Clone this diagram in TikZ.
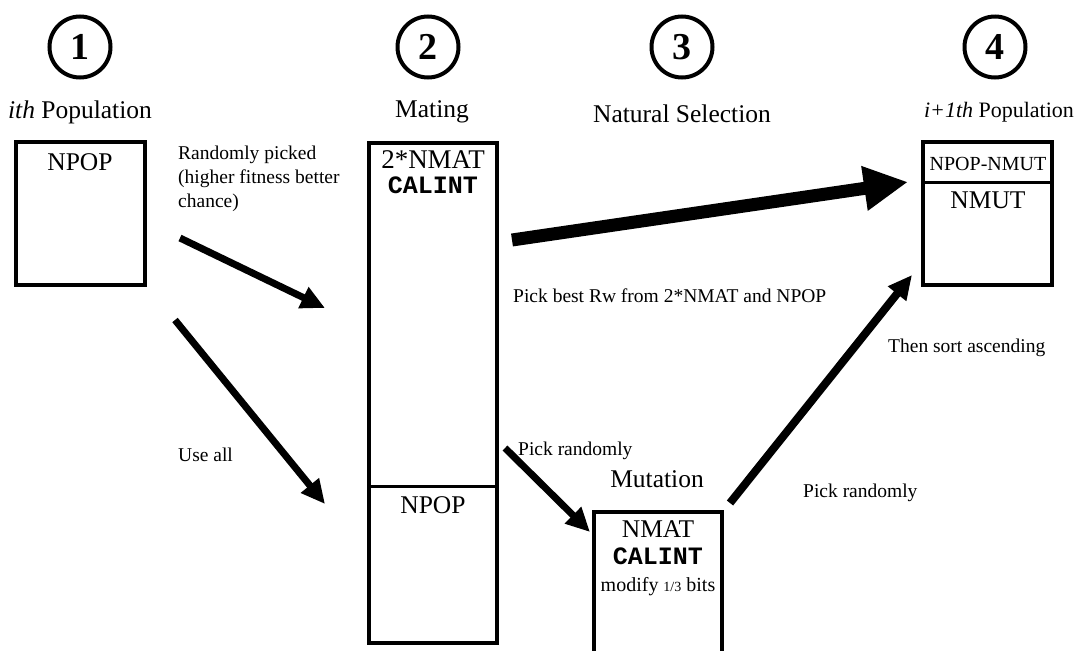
\documentclass[tikz,border=0pt]{standalone}
\usepackage{fontspec}
\setmainfont{Liberation Serif}
\setmonofont{Liberation Mono}
\usetikzlibrary{arrows.meta, positioning}

\tikzset{
  numcircle/.style={draw, circle, line width=4pt, minimum size=61pt, inner sep=0pt, font=\bfseries\fontsize{38}{40}\selectfont},
  heading/.style={anchor=base, font=\fontsize{25.5}{30}\selectfont},
  boxtext/.style={anchor=base, font=\fontsize{25.5}{30}\selectfont},
  codetext/.style={anchor=base, font=\ttfamily\bfseries\fontsize{25}{30}\selectfont},
  note/.style={anchor=base west, inner sep=0pt, font=\fontsize{19.5}{24}\selectfont},
  popbox/.style={line width=3.5pt},
  divider/.style={line width=3pt},
  flow/.style={line width=7pt, -{Triangle[length=24pt,width=22pt]}},
  bigflow/.style={line width=13pt, -{Triangle[length=44pt,width=42pt]}}
}

\begin{document}
\begin{tikzpicture}[x=1pt, y=-1pt]
\useasboundingbox (0,0) rectangle (1077,651);
\clip (0,0) rectangle (1077,651);

% Step numbers
\node[numcircle] (step1) at (80,47) {1};
\node[numcircle] (step2) at (428,47) {2};
\node[numcircle] (step3) at (682,47) {3};
\node[numcircle] (step4) at (995,47) {4};

% Headings
\node[heading] (popi) at (80,118) {\textit{ith} Population};
\node[heading] (mating) at (432,117) {Mating};
\node[heading] (natsel) at (682,122) {Natural Selection};
\node[heading, font=\fontsize{22}{26}\selectfont] (popnext) at (999,117) {\textit{i+1th} Population};

% Population boxes
\draw[popbox] (16,142) rectangle (145,285);
\node[boxtext] (npop1) at (80,170) {NPOP};

\draw[popbox] (369,143) rectangle (497,643);
\draw[divider] (369,486) -- (497,486);
\node[boxtext, font=\fontsize{27}{30}\selectfont] (nmat2) at (433,168) {2*NMAT};
\node[codetext] (calint1) at (433,193) {CALINT};
\node[boxtext] (npop2) at (433,513) {NPOP};

\draw[popbox] (594,660) -- (594,512) -- (722,512) -- (722,660);
\node[heading] (mutation) at (657,487) {Mutation};
\node[boxtext] (nmat1) at (658,537) {NMAT};
\node[codetext] (calint2) at (658,564) {CALINT};
\node[boxtext, font=\fontsize{20}{24}\selectfont] (modify) at (658,591) {modify {\fontsize{14}{16}\selectfont 1/3} bits};

\draw[popbox] (923,142) rectangle (1052,285);
\draw[divider] (923,182) -- (1052,182);
\node[boxtext, font=\fontsize{20}{24}\selectfont] (nmut1) at (988,170) {NPOP-NMUT};
\node[boxtext] (nmut2) at (988,208) {NMUT};

% Notes
\node[note, align=left, anchor=north west] (picked) at (178,146) {Randomly picked\\(higher fitness better\\chance)};
\node[note] (useall) at (178,461) {Use all};
\node[note] (best) at (513,302) {Pick best Rw from 2*NMAT and NPOP};
\node[note] (sorted) at (888,352) {Then sort ascending};
\node[note] (rand1) at (518,455) {Pick randomly};
\node[note] (rand2) at (803,497) {Pick randomly};

% Arrows
\coordinate (a1s) at (180,238); \coordinate (a1e) at (325,308);
\coordinate (a2s) at (175,320); \coordinate (a2e) at (325,504);
\coordinate (a3s) at (512,240); \coordinate (a3e) at (908,182);
\coordinate (a4s) at (505,448); \coordinate (a4e) at (590,532);
\coordinate (a5s) at (730,503); \coordinate (a5e) at (912,275);
\draw[flow] (a1s) -- (a1e);
\draw[flow] (a2s) -- (a2e);
\draw[bigflow] (a3s) -- (a3e);
\draw[flow] (a4s) -- (a4e);
\draw[flow, line width=8pt] (a5s) -- (a5e);

\end{tikzpicture}
\end{document}
